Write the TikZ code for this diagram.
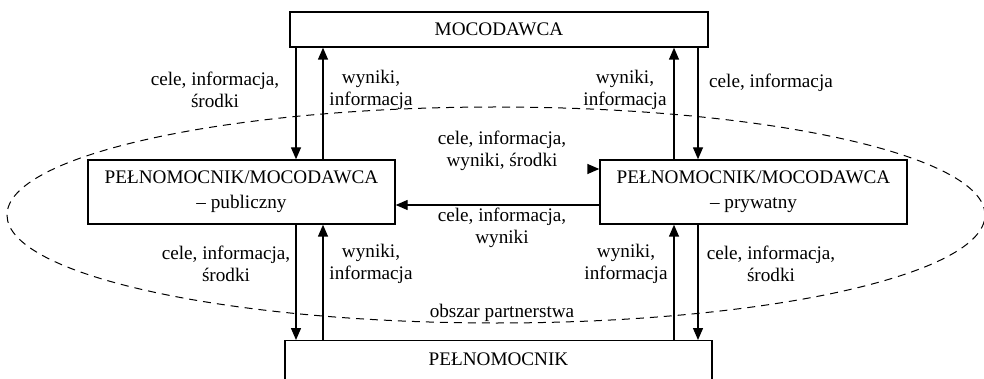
\documentclass[tikz,border=0pt]{standalone}
\usepackage{fontspec}
\setmainfont{Liberation Serif}
\usetikzlibrary{arrows.meta}

\begin{document}
\begin{tikzpicture}[x=0.5pt,y=-0.5pt,
  font=\fontsize{9.6}{10.8}\selectfont,
  box/.style={draw, line width=0.7pt, inner sep=0pt, align=center},
  flow/.style={line width=0.7pt, -{Triangle[length=6pt,width=5pt]}},
  lbl/.style={inner sep=0pt, align=center}]
\useasboundingbox (0,0) rectangle (984,379);
\draw[dash pattern=on 4pt off 3pt, line width=0.5pt] (496,215) ellipse [x radius=244.5pt, y radius=54pt];
\node[box, minimum width=209pt, minimum height=17.5pt] (moc) at (499,29.5) {MOCODAWCA};
\node[box, minimum width=153.5pt, minimum height=32pt] (pub) at (241.5,192) {PEŁNOMOCNIK/MOCODAWCA\\[1.5pt]– publiczny};
\node[box, minimum width=153.5pt, minimum height=32pt] (pryw) at (753.5,192) {PEŁNOMOCNIK/MOCODAWCA\\[1.5pt]– prywatny};
\node[box, anchor=north, minimum width=213.5pt, text height=12.5pt, text depth=30pt] (pel) at (498.5,340) {PEŁNOMOCNIK};
\coordinate (c1) at (296,0);
\coordinate (c2) at (323,0);
\coordinate (c3) at (674,0);
\coordinate (c4) at (698,0);
\coordinate (r0) at (588,169);
\coordinate (r1) at (0,205);
\draw[flow] (moc.south -| c1) -- (pub.north -| c1);
\draw[flow] (pub.north -| c2) -- (moc.south -| c2);
\draw[flow] (pryw.north -| c3) -- (moc.south -| c3);
\draw[flow] (moc.south -| c4) -- (pryw.north -| c4);
\draw[flow] (pub.south -| c1) -- (pel.north -| c1);
\draw[flow] (pel.north -| c2) -- (pub.south -| c2);
\draw[flow] (pel.north -| c3) -- (pryw.south -| c3);
\draw[flow] (pryw.south -| c4) -- (pel.north -| c4);
\draw[flow] (r0) -- (pryw.west |- r0);
\draw[flow] (pryw.west |- r1) -- (pub.east |- r1);
\node[lbl] (celeA) at (215,90) {cele, informacja,\\środki};
\node[lbl] (wynA) at (371,90) {wyniki,\\informacja};
\node[lbl] (wynB) at (625,90) {wyniki,\\informacja};
\node[lbl] (celeB) at (771,83) {cele, informacja};
\node[lbl] (celeC) at (502,151) {cele, informacja,\\wyniki, środki};
\node[lbl] (celeD) at (502,228) {cele, informacja,\\wyniki};
\node[lbl] (celeE) at (226,264) {cele, informacja,\\środki};
\node[lbl] (wynC) at (371,264) {wyniki,\\informacja};
\node[lbl] (wynD) at (626,264) {wyniki,\\informacja};
\node[lbl] (celeF) at (771,264) {cele, informacja,\\środki};
\node[lbl] (obszar) at (502,313) {obszar partnerstwa};
\end{tikzpicture}
\end{document}
